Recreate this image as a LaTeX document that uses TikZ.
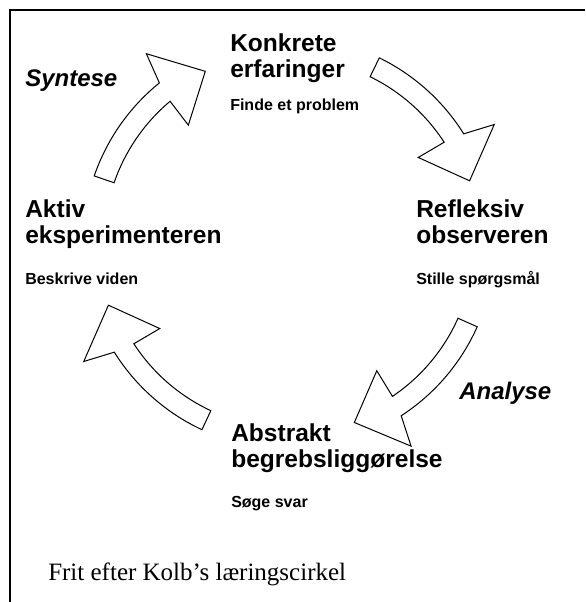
\documentclass[tikz,border=0pt]{standalone}
\usepackage{fontspec}
\setmainfont{Liberation Serif}
\setsansfont{Liberation Sans}
\usepackage{tikz}
\usetikzlibrary{positioning,calc}
\tikzset{
  stage/.style  = {font=\sffamily\bfseries\fontsize{18.4}{19.5}\selectfont,
                   align=left, anchor=base west, inner sep=0pt},
  task/.style   = {font=\sffamily\bfseries\fontsize{12}{14}\selectfont,
                   anchor=base west, inner sep=0pt},
  phase/.style  = {font=\sffamily\bfseries\itshape\fontsize{18}{20}\selectfont,
                   anchor=base west, inner sep=0pt},
  source/.style = {font=\fontsize{18.75}{22}\selectfont,
                   anchor=base west, inner sep=0pt},
  turn/.style   = {draw, line width=0.75pt, fill=white, line join=miter},
  frame/.style  = {line width=1.5pt}
}
% curved block arrow round the centre (c): from angle #1 to angle #2
\newcommand{\turnarrow}[2]{
  \draw[turn, shift={(c)}] (#1:206) arc[start angle=#1, end angle=#2, radius=206]
    -- (#2+2:237) -- (#2+13:191) -- (#2-1.5:155) -- (#2-1:185)
    arc[start angle=#2-1, end angle=#1, radius=185] -- cycle;
}

\begin{document}
\begin{tikzpicture}[x=0.75pt, y=-0.75pt]
  \useasboundingbox (0,0) rectangle (585,602);
  \draw[frame] (10,602) -- (10,10) -- (585,10);

  \coordinate (c) at (289,243);
  \foreach \from/\to in {199/231, 296/328, 24/57, 115/148}
    \turnarrow{\from}{\to};

  % the four stages (base = last line)
  \node[stage] (konkret)   at (230,78)    {Konkrete\\erfaringer};
  \node[task]  (finde)     at (230,111)   {Finde et problem};
  \node[stage] (refleksiv) at (416,243.5) {Refleksiv\\observeren};
  \node[task]  (stille)    at (416,284)   {Stille spørgsmål};
  \node[stage] (abstrakt)  at (231,467)   {Abstrakt\\begrebsliggørelse};
  \node[task]  (soege)     at (231,507)   {Søge svar};
  \node[stage] (aktiv)     at (25,243.5)  {Aktiv\\eksperimenteren};
  \node[task]  (beskrive)  at (25,284)    {Beskrive viden};

  \node[phase] (syntese) at (25,87)   {Syntese};
  \node[phase] (analyse) at (459,399) {Analyse};

  \node[source] (kilde) at (48,580) {Frit efter Kolb’s læringscirkel};
\end{tikzpicture}
\end{document}
